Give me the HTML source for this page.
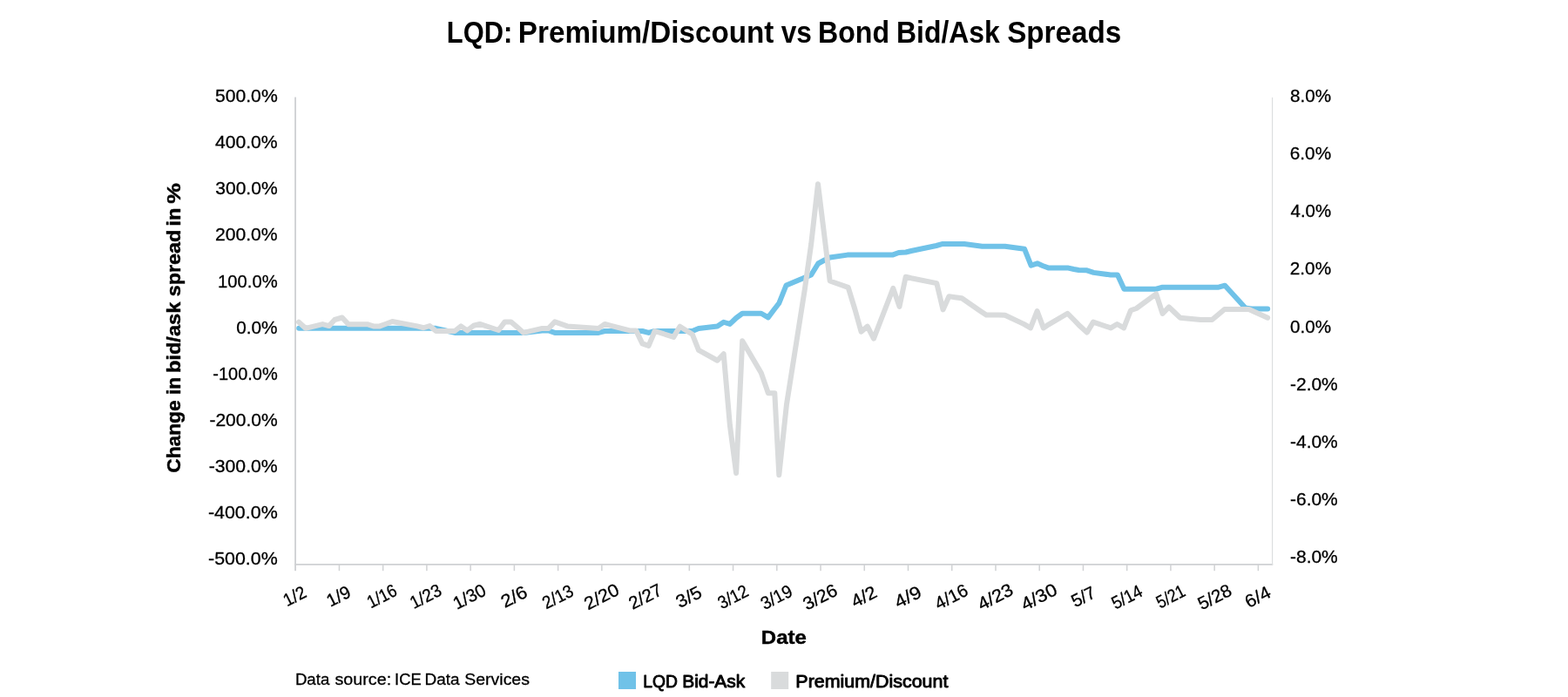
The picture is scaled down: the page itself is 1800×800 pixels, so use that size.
<!DOCTYPE html>
<html lang="en">
<head>
<meta charset="utf-8">
<title>LQD: Premium/Discount vs Bond Bid/Ask Spreads</title>
<style>
html,body{margin:0;padding:0;background:#fff;}
body{width:1800px;height:800px;overflow:hidden;}
svg{display:block;}
text{font-family:"Liberation Sans",Arial,Helvetica,sans-serif;fill:#000;white-space:pre;}
.r text{stroke:#000;stroke-width:0.3px;}
.l text{stroke:#000;stroke-width:0.9px;stroke-linejoin:round;}
.b text{stroke:#000;stroke-width:0.45px;stroke-linejoin:round;}
</style>
</head>
<body>
<svg width="1800" height="800" viewBox="0 0 1800 800">
<rect x="0" y="0" width="1800" height="800" fill="#ffffff"/>
<g id="title">
<text transform="translate(512.78,48.9) scale(0.900,1)" font-size="34.3" font-weight="bold">LQD:</text>
<text transform="translate(594.82,48.9) scale(0.969,1)" font-size="34.3" font-weight="bold">Premium/Discount</text>
<text transform="translate(896.67,48.9) scale(0.923,1)" font-size="34.3" font-weight="bold">vs</text>
<text transform="translate(938.99,48.9) scale(0.937,1)" font-size="34.3" font-weight="bold">Bond</text>
<text transform="translate(1029.01,48.9) scale(0.931,1)" font-size="34.3" font-weight="bold">Bid/Ask</text>
<text transform="translate(1156.13,48.9) scale(0.969,1)" font-size="34.3" font-weight="bold">Spreads</text>
</g>
<g id="axes" fill="#d0d2d4">
<rect x="338.1" y="111.5" width="1.9" height="543.7"/>
<rect x="338.1" y="647" width="1123.1" height="1.8"/>
<rect x="1460" y="111.8" width="1.2" height="537" fill="#dcdee0"/>
<rect x="388.69" y="648" width="1.5" height="7.2"/>
<rect x="438.92" y="648" width="1.5" height="7.2"/>
<rect x="489.16" y="648" width="1.5" height="7.2"/>
<rect x="539.39" y="648" width="1.5" height="7.2"/>
<rect x="589.63" y="648" width="1.5" height="7.2"/>
<rect x="639.87" y="648" width="1.5" height="7.2"/>
<rect x="690.10" y="648" width="1.5" height="7.2"/>
<rect x="740.34" y="648" width="1.5" height="7.2"/>
<rect x="790.57" y="648" width="1.5" height="7.2"/>
<rect x="840.81" y="648" width="1.5" height="7.2"/>
<rect x="891.05" y="648" width="1.5" height="7.2"/>
<rect x="941.28" y="648" width="1.5" height="7.2"/>
<rect x="991.52" y="648" width="1.5" height="7.2"/>
<rect x="1041.75" y="648" width="1.5" height="7.2"/>
<rect x="1091.99" y="648" width="1.5" height="7.2"/>
<rect x="1142.23" y="648" width="1.5" height="7.2"/>
<rect x="1192.46" y="648" width="1.5" height="7.2"/>
<rect x="1242.70" y="648" width="1.5" height="7.2"/>
<rect x="1292.93" y="648" width="1.5" height="7.2"/>
<rect x="1343.17" y="648" width="1.5" height="7.2"/>
<rect x="1393.41" y="648" width="1.5" height="7.2"/>
<rect x="1443.64" y="648" width="1.5" height="7.2"/>
</g>
<g id="yleft" class="r">
<text transform="translate(246.92,117.0) scale(1.038,1)" font-size="20.4">500.0%</text>
<text transform="translate(246.94,170.14) scale(1.037,1)" font-size="20.4">400.0%</text>
<text transform="translate(247.23,223.28) scale(1.033,1)" font-size="20.4">300.0%</text>
<text transform="translate(246.96,276.42) scale(1.037,1)" font-size="20.4">200.0%</text>
<text transform="translate(250.11,329.56) scale(0.991,1)" font-size="20.4">100.0%</text>
<text transform="translate(271.14,382.7) scale(1.019,1)" font-size="20.4">0.0%</text>
<text transform="translate(244.27,435.84) scale(0.980,1)" font-size="20.4">-100.0%</text>
<text transform="translate(240.43,488.98) scale(1.031,1)" font-size="20.4">-200.0%</text>
<text transform="translate(239.72,542.12) scale(1.040,1)" font-size="20.4">-300.0%</text>
<text transform="translate(238.91,595.26) scale(1.051,1)" font-size="20.4">-400.0%</text>
<text transform="translate(239.11,648.4) scale(1.048,1)" font-size="20.4">-500.0%</text>
</g>
<g id="yright" class="r">
<text transform="translate(1481.04,117.0) scale(1.012,1)" font-size="20.4">8.0%</text>
<text transform="translate(1480.78,183.16) scale(1.018,1)" font-size="20.4">6.0%</text>
<text transform="translate(1481.55,249.32) scale(1.001,1)" font-size="20.4">4.0%</text>
<text transform="translate(1480.78,315.48) scale(1.018,1)" font-size="20.4">2.0%</text>
<text transform="translate(1481.04,381.64) scale(1.012,1)" font-size="20.4">0.0%</text>
<text transform="translate(1481.03,447.8) scale(1.027,1)" font-size="20.4">-2.0%</text>
<text transform="translate(1481.03,513.96) scale(1.027,1)" font-size="20.4">-4.0%</text>
<text transform="translate(1481.03,580.12) scale(1.027,1)" font-size="20.4">-6.0%</text>
<text transform="translate(1481.03,646.28) scale(1.027,1)" font-size="20.4">-8.0%</text>
</g>
<g id="xlabels" class="r">
<text transform="translate(341.27,690.53) rotate(-27) scale(0.924,1)" text-anchor="middle" font-size="20.6">1/2</text>
<text transform="translate(391.7,690.65) rotate(-27) scale(0.984,1)" text-anchor="middle" font-size="20.6">1/9</text>
<text transform="translate(441.52,690.52) rotate(-27) scale(0.877,1)" text-anchor="middle" font-size="20.6">1/16</text>
<text transform="translate(491.75,690.75) rotate(-27) scale(0.937,1)" text-anchor="middle" font-size="20.6">1/23</text>
<text transform="translate(542.0,691.08) rotate(-27) scale(0.985,1)" text-anchor="middle" font-size="20.6">1/30</text>
<text transform="translate(593.25,691.05) rotate(-27) scale(1.08,1)" text-anchor="middle" font-size="20.6">2/6</text>
<text transform="translate(643.48,691.25) rotate(-27) scale(0.919,1)" text-anchor="middle" font-size="20.6">2/13</text>
<text transform="translate(693.73,690.98) rotate(-27) scale(1.052,1)" text-anchor="middle" font-size="20.6">2/20</text>
<text transform="translate(743.98,690.9) rotate(-27) scale(0.997,1)" text-anchor="middle" font-size="20.6">2/27</text>
<text transform="translate(793.9,691.45) rotate(-27) scale(1.062,1)" text-anchor="middle" font-size="20.6">3/5</text>
<text transform="translate(844.62,691.23) rotate(-27) scale(0.906,1)" text-anchor="middle" font-size="20.6">3/12</text>
<text transform="translate(894.5,691.6) rotate(-27) scale(0.941,1)" text-anchor="middle" font-size="20.6">3/19</text>
<text transform="translate(944.6,691.47) rotate(-27) scale(1.026,1)" text-anchor="middle" font-size="20.6">3/26</text>
<text transform="translate(994.88,691.0) rotate(-27) scale(1.052,1)" text-anchor="middle" font-size="20.6">4/2</text>
<text transform="translate(1045.38,691.38) rotate(-27) scale(1.108,1)" text-anchor="middle" font-size="20.6">4/9</text>
<text transform="translate(1095.2,691.15) rotate(-27) scale(0.989,1)" text-anchor="middle" font-size="20.6">4/16</text>
<text transform="translate(1145.72,691.23) rotate(-27) scale(1.063,1)" text-anchor="middle" font-size="20.6">4/23</text>
<text transform="translate(1195.83,691.27) rotate(-27) scale(1.088,1)" text-anchor="middle" font-size="20.6">4/30</text>
<text transform="translate(1246.85,691.17) rotate(-27) scale(0.986,1)" text-anchor="middle" font-size="20.6">5/7</text>
<text transform="translate(1296.8,691.5) rotate(-27) scale(0.918,1)" text-anchor="middle" font-size="20.6">5/14</text>
<text transform="translate(1346.92,690.88) rotate(-27) scale(0.854,1)" text-anchor="middle" font-size="20.6">5/21</text>
<text transform="translate(1397.5,691.47) rotate(-27) scale(1.006,1)" text-anchor="middle" font-size="20.6">5/28</text>
<text transform="translate(1447.0,691.38) rotate(-27) scale(1.05,1)" text-anchor="middle" font-size="20.6">6/4</text>
</g>
<g id="ytitle" class="b">
<text transform="translate(206.9,542.79) rotate(-90) scale(1.054,1)" font-size="21.6" font-weight="bold">Change</text>
<text transform="translate(206.9,453.02) rotate(-90) scale(1.057,1)" font-size="21.6" font-weight="bold">in</text>
<text transform="translate(206.9,428.12) rotate(-90) scale(1.096,1)" font-size="21.6" font-weight="bold">bid/ask</text>
<text transform="translate(206.9,340.29) rotate(-90) scale(1.083,1)" font-size="21.6" font-weight="bold">spread</text>
<text transform="translate(206.9,259.63) rotate(-90) scale(1.101,1)" font-size="21.6" font-weight="bold">in</text>
<text transform="translate(206.9,233.81) rotate(-90) scale(1.232,1)" font-size="21.6" font-weight="bold">%</text>
</g>
<g id="xtitle" class="b">
<text transform="translate(873.86,738.9) scale(1.111,1)" font-size="21.6" font-weight="bold">Date</text>
</g>
<g id="source" class="r">
<text transform="translate(338.90,786.2) scale(0.997,1)" font-size="18.7">Data</text>
<text transform="translate(384.47,786.2) scale(1.055,1)" font-size="18.7">source:</text>
<text transform="translate(453.03,786.2) scale(0.983,1)" font-size="18.7">ICE</text>
<text transform="translate(487.48,786.2) scale(1.013,1)" font-size="18.7">Data</text>
<text transform="translate(533.22,786.2) scale(1.043,1)" font-size="18.7">Services</text>
</g>
<g id="legend" class="l">
<rect x="710" y="771" width="20" height="20" fill="#70c2e8"/>
<text transform="translate(738.29,788.8) scale(0.968,1)" font-size="19.9">LQD</text>
<text transform="translate(783.19,788.8) scale(1.051,1)" font-size="19.9">Bid-Ask</text>
<text transform="translate(913.35,788.8) scale(1.077,1)" font-size="19.9">Premium/Discount</text>
<rect x="885.2" y="771" width="20" height="20" fill="#d9dbdc"/>
</g>
<polyline id="bidask" fill="none" stroke="#70c2e8" stroke-width="6" stroke-linejoin="round" stroke-linecap="round" points="343.2,376.85 500.5,376.85 522.0,381.9 601.0,381.9 622.5,379.5 629.7,379.5 636.9,381.9 687.1,381.9 694.3,380 737.4,380 744.6,381.9 751.7,380 794.8,380 802.0,376.9 823.5,374.4 830.7,369.75 837.9,371.9 845.1,365 852.2,359.75 873.8,359.75 881.8,364.4 888.1,356 894.3,348 902.5,327.5 924.0,318.5 931.2,315.5 939.2,302.5 945.6,299 952.7,295.5 972.8,292.6 1024.5,292.6 1031.7,290 1039.9,289.5 1046.0,288 1074.8,282 1081.4,280.1 1107.0,280.1 1127.5,282.75 1153.7,282.75 1176.0,285.7 1183.6,304.6 1190.8,302.35 1196.8,305 1204.0,307.6 1226.5,307.6 1232.7,309 1238.3,310 1247.0,310.2 1255.4,312.85 1274.9,315.5 1282.9,315.5 1290.4,331.75 1327.2,331.75 1334.6,329.7 1399.0,329.7 1406.2,327.7 1429.7,353.6 1436.7,354.5 1455.2,354.5"/>
<polyline id="premium" fill="none" stroke="#d9dbdc" stroke-width="6" stroke-linejoin="round" stroke-linecap="round" points="343.0,369.7 350.8,376.8 370.3,372.1 377.7,374.1 384.2,367 392.8,364.5 400.0,372.2 421.6,372.2 428.7,374.4 435.9,374.4 443.1,371.7 450.3,369 479.0,374.4 486.2,376.25 493.3,374 500.5,380 522.0,380 529.2,374.4 536.4,379.4 543.6,373.75 550.8,371.9 572.3,379 579.5,369.4 586.7,369.4 593.8,375.6 601.0,381.9 622.5,376.9 629.7,376.9 636.9,369.4 644.1,371.9 651.3,374.4 680.0,376.4 687.1,376.9 694.3,371.9 701.5,373.8 723.0,379.4 730.2,379.4 737.4,394.4 744.6,396.9 751.7,380 773.3,386.9 780.5,374.75 787.6,379.25 794.8,383.75 802.0,401.9 823.5,413.75 830.7,406.25 837.9,488 845.1,543.1 852.2,391.25 873.8,428 881.9,451.2 889.3,451.2 894.3,545.2 903.0,464 924.0,331 931.2,280 939.0,211.2 945.9,267 952.7,322.5 973.7,329.8 981.4,355 988.6,380.75 995.8,374.6 1003.0,388.6 1025.3,330.9 1032.5,351.9 1039.7,317.75 1046.0,319.2 1075.3,325.1 1082.5,355.4 1089.4,340.15 1096.3,341.2 1104.1,342.25 1125.0,356.7 1132.2,361.5 1139.4,361.5 1146.5,361.5 1153.7,361.7 1175.2,371.9 1183.0,376.4 1190.6,357.1 1197.8,376.4 1204.0,372.3 1225.5,359.75 1232.7,367 1239.8,374.3 1247.8,381.6 1255.0,369.6 1275.2,376.4 1282.4,372 1290.1,376.4 1298.0,356.25 1304.5,354 1327.2,337.3 1334.6,360 1341.9,352.4 1348.3,358.5 1354.7,364.7 1378.4,367 1391.4,367 1398.6,361 1405.7,355 1426.5,355 1433.7,355 1440.8,358.3 1448.0,361.5 1455.2,364.75"/>
</svg>
</body>
</html>
